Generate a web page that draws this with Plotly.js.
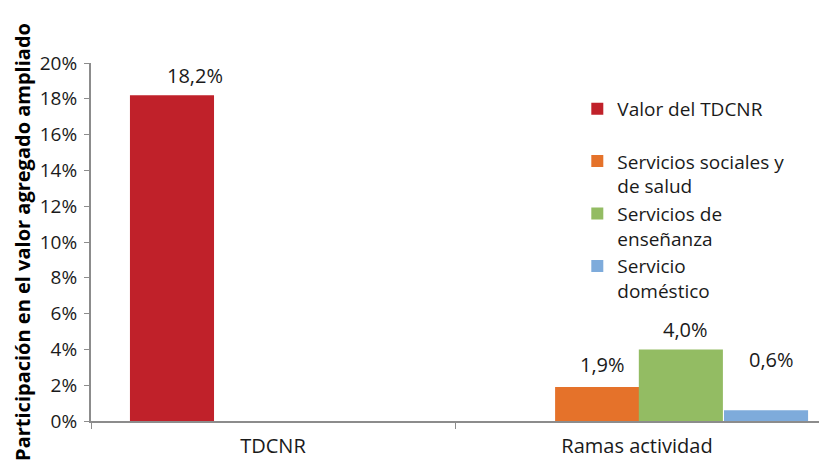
<!DOCTYPE html>
<html>
<head>
<meta charset="utf-8">
<script src="https://cdn.plot.ly/plotly-3.0.1.min.js"></script>
<style>html,body{margin:0;padding:0;background:#fff;}#chart{width:819px;height:466px;}</style>
</head>
<body>
<div id="chart"></div>
<script>
// Data
const categories = ['TDCNR', 'Ramas actividad'];
const seriesNames = ['Valor del TDCNR<br> ', 'Servicios sociales y<br>de salud', 'Servicios de<br>enseñanza', 'Servicio<br>doméstico'];
const valorTDCNR = [0.182, null];
const serviciosSociales = [null, 0.019];
const serviciosEnsenanza = [null, 0.040];
const servicioDomestico = [null, 0.006];
const yTickVals = [0, 0.02, 0.04, 0.06, 0.08, 0.10, 0.12, 0.14, 0.16, 0.18, 0.20];

// Styles
const colors = ['#C0212A', '#E5722A', '#93BC63', '#7EABDB'];
const barWidth = 0.231;                         // in category units
const barOffset = [-0.393, -0.225, 0.005, 0.239]; // left edge relative to category centre
const labelXShift = [-78, -35, 48, 134];   // px, label offset from category centre
const labelYShift = [20, 22, 20, 51];      // px, label lift above bar top
const FONT = 'Open Sans, sans-serif';

const seriesValues = [valorTDCNR, serviciosSociales, serviciosEnsenanza, servicioDomestico];

const traces = seriesValues.map((vals, i) => ({
  type: 'bar',
  name: seriesNames[i],
  x: categories,
  y: vals,
  width: barWidth,
  offset: barOffset[i],
  marker: {color: colors[i]},
  hoverinfo: 'skip'
}));

const annotations = [];
seriesValues.forEach((vals, i) => {
  vals.forEach((v, j) => {
    if (v === null) return;
    annotations.push({
      x: categories[j], y: v, xref: 'x', yref: 'y',
      text: (v * 100).toFixed(1).replace('.', ',') + '%',
      showarrow: false, xanchor: 'center', yanchor: 'middle',
      xshift: labelXShift[i], yshift: labelYShift[i],
      font: {family: FONT, size: 20, color: '#1a1a1a'}
    });
  });
});

const layout = {
  width: 819, height: 466,
  margin: {l: 91, r: 0, t: 63, b: 45},
  paper_bgcolor: '#fff', plot_bgcolor: '#fff',
  barmode: 'overlay',
  separators: ',.',
  showlegend: true,
  font: {family: FONT, color: '#1a1a1a'},
  xaxis: {
    type: 'category',
    showline: true, linecolor: '#8c8c8c', linewidth: 2,
    ticks: 'outside', tickson: 'boundaries', ticklen: 6, tickcolor: '#8c8c8c', tickwidth: 1,
    tickfont: {family: FONT, size: 20, color: '#1a1a1a'},
    ticklabelstandoff: 6,
    showgrid: false, zeroline: false,
    range: [-0.5, 1.5]
  },
  yaxis: {
    range: [0, 0.2],
    tickvals: yTickVals,
    tickformat: '.0%',
    showline: true, linecolor: '#8c8c8c', linewidth: 2,
    ticks: 'outside', ticklen: 5, tickcolor: '#8c8c8c', tickwidth: 1,
    tickfont: {family: FONT, size: 19, color: '#1a1a1a'},
    ticklabelstandoff: 3,
    showgrid: false, zeroline: false,
    title: {text: 'Participación en el valor agregado ampliado', font: {family: FONT, size: 20, color: '#000', weight: 'bold'}, standoff: 4}
  },
  legend: {
    x: 0.668, y: 0.925, xanchor: 'left', yanchor: 'top',
    valign: 'top',
    font: {family: FONT, size: 19, color: '#1a1a1a'},
    bgcolor: 'rgba(0,0,0,0)',
    tracegroupgap: 0
  },
  annotations: annotations
};

Plotly.newPlot('chart', traces, layout, {displayModeBar: false, staticPlot: true});
</script>
</body>
</html>
